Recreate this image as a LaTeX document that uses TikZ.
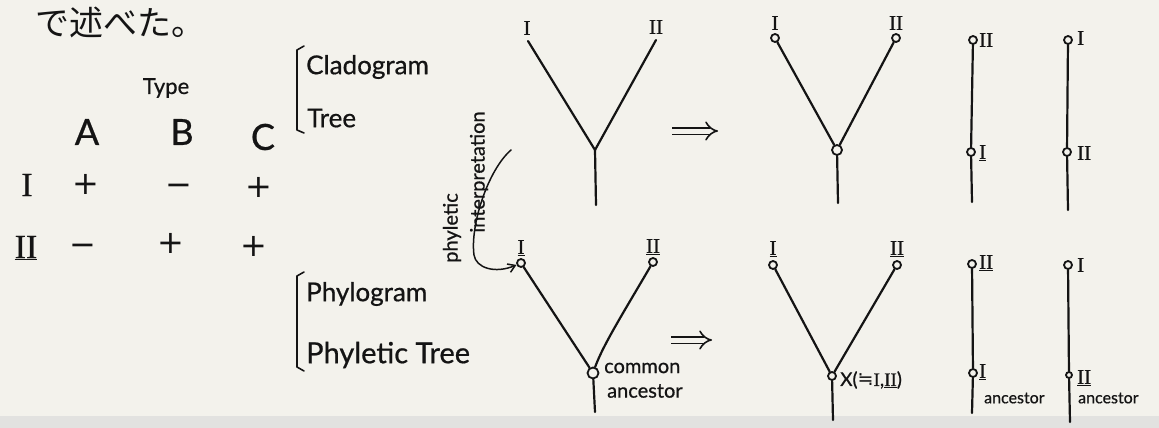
\documentclass[tikz,border=0pt]{standalone}
\usepackage{fontspec}
\setmainfont{Lato}[FakeBold=0.7]
\newfontfamily\jpfont{Noto Sans CJK JP}
\newfontfamily\numfont{Liberation Serif}[FakeBold=0.5]
\newfontfamily\symfont{DejaVu Sans}
\usetikzlibrary{arrows.meta,positioning}
\definecolor{paper}{HTML}{F3F2EC}
\definecolor{band}{HTML}{E2E2E0}
\definecolor{ink}{HTML}{141414}
\tikzset{
  ink/.style={draw=ink, line width=2.2pt, line cap=round, line join=round},
  dot/.style={circle, draw=ink, fill=paper, line width=1.8pt, inner sep=0pt, minimum size=8pt},
  word/.style={text=ink, inner sep=0pt, font=\fontsize{26}{28}\selectfont},
  small/.style={text=ink, inner sep=0pt, font=\fontsize{20}{22}\selectfont},
  tiny/.style={text=ink, inner sep=0pt, font=\fontsize{16}{18}\selectfont},
  big/.style={text=ink, inner sep=0pt, font=\fontsize{36}{38}\selectfont},
  sign/.style={text=ink, inner sep=0pt, font=\symfont\fontsize{32}{34}\selectfont},
  rn/.style={text=ink, inner sep=0pt, font=\numfont\fontsize{21}{22}\selectfont},
  rnbig/.style={text=ink, inner sep=0pt, font=\numfont\fontsize{34}{36}\selectfont},
  implies/.style={draw=ink, line width=1.6pt, double=paper, double distance=5pt, -{Implies}},
}
\begin{document}
\begin{tikzpicture}[x=1pt, y=-1pt]
% sheet
\fill[paper] (0,0) rectangle (1159,428);
\fill[band] (0,416) rectangle (1159,428);
\useasboundingbox (0,0) rectangle (1159,428);

% heading line
\node[text=ink, inner sep=0pt, font=\jpfont\fontsize{34}{35}\selectfont] (head) at (120,22) {で述べた。};

% character table
\node[small, font=\fontsize{22}{24}\selectfont] (type) at (166,88) {Type};
\node[big] (colA) at (87,132) {A};
\node[big] (colB) at (182,132) {B};
\node[big] (colC) at (263,137) {C};
\node[rnbig] (rowI) at (27,185) {I};
\node[sign] (a1) at (86,184) {+};
\node[sign] (b1) at (179,190) {−};
\node[sign] (c1) at (259,187) {+};
\node[rnbig] (rowII) at (26,248) {\underline{II}};
\node[sign] (a2) at (83,250) {−};
\node[sign] (b2) at (171,243) {+};
\node[sign] (c2) at (254,246) {+};

% names of the two kinds of tree
\draw[ink, line width=1.6pt] (304,46) -- (297,50) -- (297,130) -- (304,133);
\node[word, anchor=west] (clado) at (306,67) {Cladogram};
\node[word, anchor=west] (tree) at (307,118) {Tree};
\draw[ink, line width=1.6pt] (304,272) -- (297,276) -- (297,367) -- (304,371);
\node[word, anchor=west] (phylo) at (306,294) {Phylogram};
\node[word, font=\fontsize{29}{30}\selectfont, anchor=west] (phytree) at (306,355) {Phyletic Tree};

% rotated note with its curved arrow
\node[tiny, font=\fontsize{20}{22}\selectfont, rotate=90] (phy) at (452,228) {phyletic};
\node[tiny, font=\fontsize{20}{22}\selectfont, rotate=90] (interp) at (479,172) {interpretation};

% ---- upper row: cladograms ----
% plain Y
\node[rn] (u1I) at (527,28) {I};
\node[rn] (u1II) at (656,27) {II};
\coordinate (u1a) at (528,41);
\coordinate (u1b) at (656,40);
\coordinate (u1j) at (595,150);
\coordinate (u1r) at (596,205);
\draw[ink] (u1a) -- (u1j) -- (u1b);
\draw[ink] (u1j) -- (u1r);

\coordinate (ar1s) at (672,131);
\coordinate (ar1e) at (718,131);
\draw[implies] (ar1s) -- (ar1e);

% Y with taxa as dots
\node[dot] (u2a) at (775,38) {};
\node[dot] (u2b) at (896,38) {};
\node[dot, minimum size=10pt] (u2j) at (837,150) {};
\coordinate (u2r) at (838,203);
\node[rn, above=3pt of u2a] (u2Il) {I};
\node[rn, above=3pt of u2b] (u2IIl) {II};
\draw[ink] (u2a) -- (u2j) -- (u2b);
\draw[ink] (u2j) -- (u2r);

% II above I
\node[dot] (u3a) at (973,40) {};
\node[dot] (u3b) at (971,152) {};
\coordinate (u3r) at (972,202);
\node[rn, anchor=west] (u3al) at (979,40) {II};
\node[rn, anchor=west] (u3bl) at (979,153) {\underline{I}};
\draw[ink] (u3a) -- (u3b) -- (u3r);

% I above II
\node[dot] (u4a) at (1068,40) {};
\node[dot] (u4b) at (1067,152) {};
\coordinate (u4r) at (1068,210);
\node[rn, anchor=west] (u4al) at (1077,38) {I};
\node[rn, anchor=west] (u4bl) at (1077,153) {II};
\draw[ink] (u4a) -- (u4b) -- (u4r);

% ---- lower row: phylograms ----
\node[dot] (l1a) at (521,263) {};
\node[dot] (l1b) at (653,262) {};
\node[dot, minimum size=11pt] (l1j) at (593,373) {};
\coordinate (l1r) at (595,412);
\node[rn, above=2pt of l1a] (l1Il) {\underline{I}};
\node[rn, above=2pt of l1b] (l1IIl) {\underline{II}};
\draw[ink] (l1a) -- (l1j);
\draw[ink] (l1b) .. controls (625,310) and (603,345) .. (l1j);
\draw[ink] (l1j) -- (l1r);
\node[small, anchor=west] (common) at (604,368) {common};
\node[small, anchor=west] (anc1) at (607,391) {ancestor};

% curved arrow from the rotated note to taxon I
\coordinate (cs) at (511,150);
\draw[ink, line width=1.5pt, -{Straight Barb[length=7pt, width=9pt]}]
  (cs) .. controls (488,170) and (470,225) .. (474,255)
       .. controls (476,268) and (495,274) .. (l1a);

\coordinate (ar2s) at (671,340);
\coordinate (ar2e) at (712,340);
\draw[implies] (ar2s) -- (ar2e);

% Y with an ancestor X at the fork
\node[dot] (l2a) at (773,265) {};
\node[dot] (l2b) at (897,265) {};
\node[dot] (l2j) at (832,376) {};
\coordinate (l2r) at (833,420);
\node[rn, above=3pt of l2a] (l2Il) {\underline{I}};
\node[rn, above=3pt of l2b] (l2IIl) {\underline{II}};
\draw[ink] (l2a) -- (l2j) -- (l2b);
\draw[ink] (l2j) -- (l2r);
\node[tiny, font=\fontsize{19}{20}\selectfont, anchor=west] (xlab) at (840,380)
  {X({\symfont ≒}{\numfont I},{\numfont\underline{II}})};

% II descended from I
\node[dot] (l3a) at (972,264) {};
\node[dot] (l3b) at (973,373) {};
\coordinate (l3r) at (972,413);
\node[rn, anchor=west] (l3al) at (979,263) {\underline{II}};
\node[rn, anchor=west] (l3bl) at (979,372) {\underline{I}};
\draw[ink] (l3a) -- (l3b) -- (l3r);
\node[tiny, anchor=west] (anc2) at (984,398) {ancestor};

% I descended from II
\node[dot] (l4a) at (1068,265) {};
\node[dot, minimum size=6pt] (l4b) at (1069,375) {};
\coordinate (l4r) at (1070,422);
\node[rn, anchor=west] (l4al) at (1077,265) {I};
\node[rn, anchor=west] (l4bl) at (1077,378) {\underline{II}};
\draw[ink] (l4a) -- (l4b) -- (l4r);
\node[tiny, anchor=west] (anc3) at (1078,398) {ancestor};
\end{tikzpicture}
\end{document}
